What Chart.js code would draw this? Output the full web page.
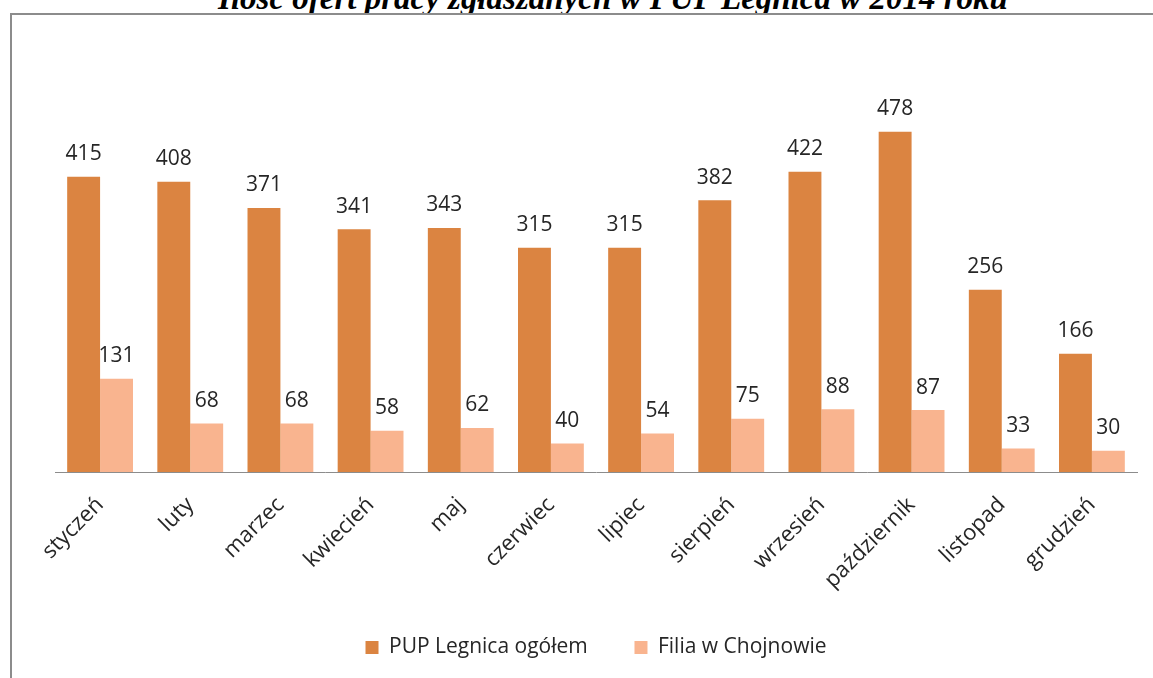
<!DOCTYPE html>
<html>
<head>
<meta charset="utf-8">
<script src="https://cdn.jsdelivr.net/npm/chart.js@4"></script>
<style>
  body { margin: 0; background: #fff; width: 1153px; height: 678px; overflow: hidden; position: relative; }
  #title { position: absolute; left: 0; width: 1226px; top: -19px; text-align: center;
    font: italic bold 33px "Liberation Serif", "DejaVu Serif", serif; color: #000; line-height: 34px; white-space: nowrap; }
  #frame { position: absolute; left: 10px; top: 13px; width: 1200px; height: 700px;
    border-left: 2px solid #8c8c8c; border-top: 2px solid #8c8c8c; background: #fff; }
  #wrap { position: absolute; left: 0; top: 0; width: 1153px; height: 678px; }
</style>
</head>
<body>
<div id="title">Ilość ofert pracy zgłaszanych w PUP Legnica w 2014 roku</div>
<div id="frame"></div>
<div id="wrap"><canvas id="chart_offers"></canvas></div>
<script>
const months = ['styczeń', 'luty', 'marzec', 'kwiecień', 'maj', 'czerwiec', 'lipiec', 'sierpień', 'wrzesień', 'październik', 'listopad', 'grudzień'];
const legnicaTotal = [415, 408, 371, 341, 343, 315, 315, 382, 422, 478, 256, 166];
const chojnowBranch = [131, 68, 68, 58, 62, 40, 54, 75, 88, 87, 33, 30];

const textColor = '#262626';

// value above every bar
const barValues = {
  id: 'barValues',
  afterDatasetsDraw(chart) {
    const ctx = chart.ctx;
    ctx.save();
    ctx.font = '21px "Open Sans"';
    ctx.fillStyle = textColor;
    ctx.textAlign = 'center';
    ctx.textBaseline = 'bottom';
    chart.data.datasets.forEach((ds, i) => {
      chart.getDatasetMeta(i).data.forEach((bar, j) => {
        ctx.fillText(ds.data[j], bar.x, bar.y - 12);
      });
    });
    ctx.restore();
  }
};

new Chart(document.getElementById('chart_offers'), {
  type: 'bar',
  data: {
    labels: months,
    datasets: [{
      label: 'PUP Legnica ogółem',
      data: legnicaTotal,
      backgroundColor: '#db8441'
    }, {
      label: 'Filia w Chojnowie',
      data: chojnowBranch,
      backgroundColor: '#f9b48f'
    }]
  },
  options: {
    responsive: true,
    maintainAspectRatio: false,
    animation: false,
    datasets: {
      bar: { categoryPercentage: 0.73, barPercentage: 1.0 }
    },
    layout: { padding: { left: 55, right: 16, top: 45, bottom: 10 } },
    scales: {
      y: { display: false, min: 0, max: 600 },
      x: {
        grid: { display: false, drawTicks: false },
        border: { display: true, color: '#8c8c8c', width: 1 },
        ticks: {
          color: textColor,
          font: { family: 'Open Sans', size: 22 },
          minRotation: 45,
          maxRotation: 45,
          padding: 20
        },
        afterFit: (scale) => { scale.height = 151; }
      }
    },
    plugins: {
      legend: {
        position: 'bottom',
        labels: {
          color: textColor,
          font: { family: 'Open Sans', size: 21 },
          boxWidth: 13,
          boxHeight: 13,
          padding: 14,
          // keep the wide gap between the two entries
          generateLabels: (chart) => {
            const items = Chart.defaults.plugins.legend.labels.generateLabels(chart);
            items[0].text = items[0].text + '      ';
            return items;
          }
        }
      },
      tooltip: { enabled: false }
    }
  },
  plugins: [barValues]
});
</script>
</body>
</html>
